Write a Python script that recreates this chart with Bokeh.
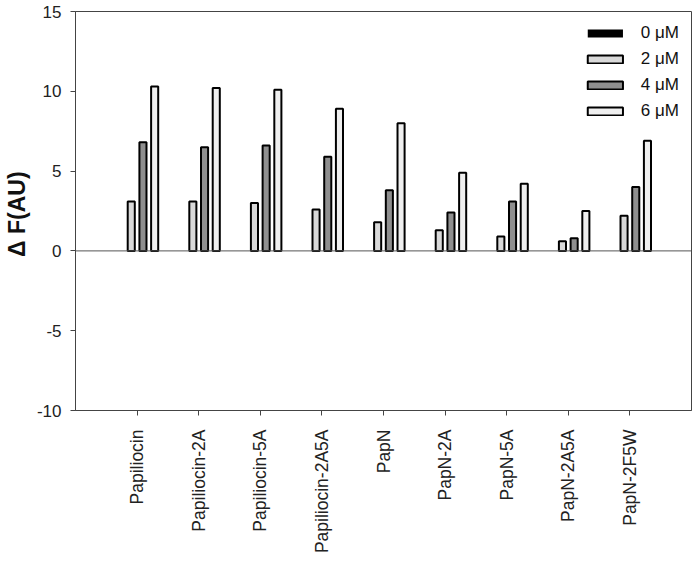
from bokeh.plotting import figure
from bokeh.models import FactorRange, FixedTicker, Span, Legend, LegendItem, ColumnDataSource
from bokeh.transform import dodge
from bokeh.embed import file_html
from bokeh.resources import INLINE
import math

categories = ["Papiliocin", "Papiliocin-2A", "Papiliocin-5A", "Papiliocin-2A5A",
              "PapN", "PapN-2A", "PapN-5A", "PapN-2A5A", "PapN-2F5W"]
series_names = ["0 \u03bcM", "2 \u03bcM", "4 \u03bcM", "6 \u03bcM"]
v0 = [0, 0, 0, 0, 0, 0, 0, 0, 0]
v2 = [3.1, 3.1, 3.0, 2.6, 1.8, 1.3, 0.9, 0.6, 2.2]
v4 = [6.8, 6.5, 6.6, 5.9, 3.8, 2.4, 3.1, 0.8, 4.0]
v6 = [10.3, 10.2, 10.1, 8.9, 8.0, 4.9, 4.2, 2.5, 6.9]
y_ticks = [-10, -5, 0, 5, 10, 15]
y_tick_labels = ["-10", "-5", "0", "5", "10", "15"]

FONT = "Liberation Sans"

src = ColumnDataSource(dict(cat=categories, v0=v0, v2=v2, v4=v4, v6=v6))

p = figure(x_range=FactorRange(*categories, range_padding=0.5, range_padding_units="absolute"),
           y_range=(-10, 15), width=692, height=561,
           output_backend="svg", toolbar_location=None,
           min_border_left=73, min_border_right=1, min_border_top=11, min_border_bottom=151)

fills = ["#000000", "#d9d9d9", "#8f8f8f", "#efefef"]
cols = ["v0", "v2", "v4", "v6"]
offsets = [-0.285, -0.095, 0.095, 0.285]
renderers = []
for c, f, off, i in zip(cols, fills, offsets, range(4)):
    r = p.vbar(x=dodge("cat", off, range=p.x_range), top=c, bottom=0, width=0.115,
               source=src, fill_color=f, line_color="black", line_width=2,
               line_alpha=0 if i == 0 else 1)
    renderers.append(r)

p.add_layout(Span(location=0, dimension="width", line_color="#555555", line_width=1))

legend = Legend(items=[LegendItem(label=n, renderers=[r]) for n, r in zip(series_names, renderers)],
                location="top_right", glyph_width=44, glyph_height=10, spacing=6,
                label_height=18, label_text_font=FONT, label_text_font_size="17px",
                label_standoff=14, label_text_color="#111111",
                border_line_alpha=0, background_fill_alpha=0, margin=10, padding=2)
p.add_layout(legend)

p.xgrid.visible = False
p.ygrid.visible = False
p.outline_line_color = "#444444"
p.outline_line_width = 1

p.yaxis.ticker = FixedTicker(ticks=y_ticks)
p.yaxis.major_label_overrides = {t: s for t, s in zip(y_ticks, y_tick_labels)}
p.yaxis.minor_tick_line_color = None
p.yaxis.major_tick_in = 0
p.yaxis.major_tick_out = 5
p.yaxis.major_label_standoff = 9
p.yaxis.axis_label = "\u0394  F(AU)"
p.yaxis.axis_label_text_font = FONT
p.yaxis.axis_label_text_font_size = "23px"
p.yaxis.axis_label_text_font_style = "bold"
p.yaxis.axis_label_text_color = "#111111"
p.yaxis.axis_label_standoff = 4

p.xaxis.major_label_orientation = math.pi / 2
p.xaxis.major_tick_in = 0
p.xaxis.major_tick_out = 5
p.xaxis.major_label_standoff = 14

for ax in (p.xaxis, p.yaxis):
    ax.axis_line_color = "#444444"
    ax.major_tick_line_color = "#444444"
    ax.major_label_text_font = FONT
    ax.major_label_text_font_size = "17px"
    ax.major_label_text_color = "#222222"
p.xaxis.major_label_text_font_size = "17.5px"

open("out.html", "w").write(file_html(p, INLINE))
